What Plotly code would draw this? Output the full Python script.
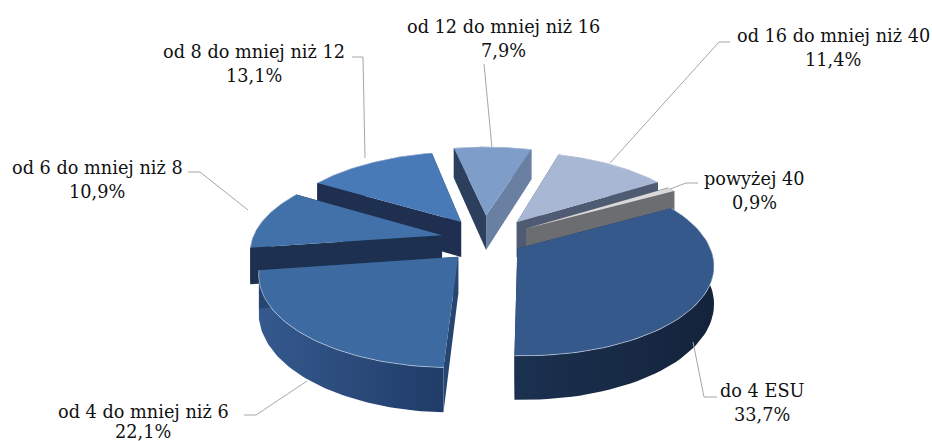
import numpy as np
import plotly.graph_objects as go

# Data
categories = ['do 4 ESU', 'od 4 do mniej niż 6', 'od 6 do mniej niż 8', 'od 8 do mniej niż 12',
              'od 12 do mniej niż 16', 'od 16 do mniej niż 40', 'powyżej 40']
shares = [33.7, 22.1, 10.9, 13.1, 7.9, 11.4, 0.9]

# Colours per slice: top, rim left, rim right, radial face
top_colors = ['#35598a', '#3d6aa1', '#4270a9', '#487ab8', '#7f9dc9', '#a8b7d4', '#d9d9d9']
rim_left = ['#1b3150', '#35598e', '#1e3253', '#1f3152', '#34486a', '#565f74', '#6e6f70']
rim_right = ['#14233b', '#203c68', '#1e3253', '#1f3152', '#6a80a3', '#4c566a', '#6a6b6c']
face_colors = ['#1b3150', '#264670', '#1d3050', '#1e2f50', '#2c3f5c', '#4f5b72', '#6b6d70']

# Pie geometry in page pixels
CX, CY = 484.5, 237
RADIUS = 189
TILT = 86
PERSP = 0.16
DEPTH = 36
PULL_X = [0.2, 0.2, 0.23, 0.22, 0.2, 0.29, 0.26]
PULL_Y = [0.25, 0.30, 0.1, 0.22, 0.26, 0.22, 0.2]
START = 61

# Label text placement (first line, second line) and leader lines
label_pos = [(762, 391, 415), (143, 412, 432), (97, 168, 192), (254, 52, 76), (503, 27, 51), (833, 36, 60), (754, 179, 203)]
leaders = [[(717, 397), (704, 397), (693, 342)],
           [(244, 415), (256, 415), (307, 381)],
           [(188, 172), (200, 172), (248, 210)],
           [(352, 57), (363, 57), (365, 158)],
           [(484, 64), (492, 148)],
           [(730, 42), (719, 42), (610, 163)],
           [(698, 183), (686, 183), (670, 189)]]


def project(wx, wy, drop=0.0):
    s = 1 / (1 + PERSP * wy)
    return CX + RADIUS * wx * s, CY - TILT * wy * s + drop * s


def slice_points(a0, a1, i, drop=0.0):
    # tip and outer arc of one exploded slice
    mid = np.radians((a0 + a1) / 2)
    ox, oy = PULL_X[i] * np.sin(mid), PULL_Y[i] * np.cos(mid)
    th = np.radians(np.linspace(a0, a1, 60))
    tip = project(ox, oy, drop)
    arc_x, arc_y = project(ox + np.sin(th), oy + np.cos(th), drop)
    return tip, arc_x, arc_y


def poly(fig, xs, ys, color=None, gradient=None):
    tr = dict(x=list(xs), y=list(ys), mode='lines', line=dict(width=0), fill='toself',
              hoverinfo='skip', showlegend=False)
    if gradient:
        tr['fillgradient'] = dict(type='horizontal', colorscale=[[0, gradient[0]], [1, gradient[1]]])
    else:
        tr['fillcolor'] = color
    fig.add_trace(go.Scatter(**tr))


fig = go.Figure()

total = sum(shares)
edges = START + np.cumsum([0] + [v / total * 360 for v in shares])
mids = np.radians((edges[:-1] + edges[1:]) / 2)

# back slices first
for i in np.argsort(-np.cos(mids)):
    a0, a1 = edges[i], edges[i + 1]
    tip, ax, ay = slice_points(a0, a1, i)
    tipb, bx, by = slice_points(a0, a1, i, DEPTH)

    poly(fig, np.r_[ax, bx[::-1]], np.r_[ay, by[::-1]], gradient=(rim_left[i], rim_right[i]))
    poly(fig, [tip[0], ax[0], bx[0], tipb[0]], [tip[1], ay[0], by[0], tipb[1]], face_colors[i])
    # the right face of the back wedge is lighter
    poly(fig, [tip[0], ax[-1], bx[-1], tipb[0]], [tip[1], ay[-1], by[-1], tipb[1]],
         rim_right[i] if categories[i].startswith('od 12') else face_colors[i])
    poly(fig, np.r_[tip[0], ax], np.r_[tip[1], ay], top_colors[i])
    # thin light edge on the rim
    fig.add_trace(go.Scatter(x=list(ax), y=list(ay), mode='lines', hoverinfo='skip', showlegend=False,
                             line=dict(color='rgba(225,232,245,0.55)', width=1)))

for pts in leaders:
    fig.add_trace(go.Scatter(x=[p[0] for p in pts], y=[p[1] for p in pts], mode='lines',
                             hoverinfo='skip', showlegend=False,
                             line=dict(color='#a6a6a6', width=1)))

for name, val, (lx, ly1, ly2) in zip(categories, shares, label_pos):
    for txt, ly in ((name, ly1), (f"{val:.1f}%".replace('.', ','), ly2)):
        fig.add_annotation(x=lx, y=ly, text=txt, showarrow=False,
                           font=dict(family='DejaVu Serif', size=17.7, color='#111111'),
                           xanchor='center', yanchor='middle')

fig.update_xaxes(range=[0, 932], visible=False, fixedrange=True)
fig.update_yaxes(range=[441, 0], visible=False, fixedrange=True)
fig.update_layout(width=932, height=441, margin=dict(l=0, r=0, t=0, b=0),
                  paper_bgcolor='white', plot_bgcolor='white')

# page margin off, so the figure fills the window
fig.write_html("out.html", config={'displayModeBar': False},
               post_script="document.body.style.margin='0';")
